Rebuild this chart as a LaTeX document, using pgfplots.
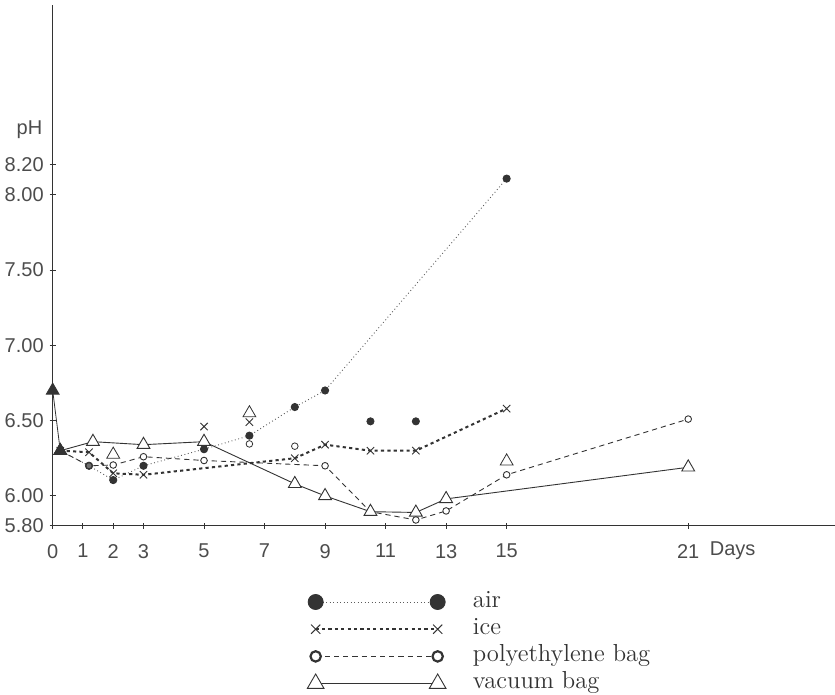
\documentclass[border=0pt]{standalone}
\usepackage{fontspec}
\setsansfont{Liberation Sans}
\usepackage{pgfplots}
\pgfplotsset{compat=1.18}
\colorlet{ink}{black!80}
\pgfplotsset{
  legimg/.style={legend image code/.code={\draw[##1,#1] plot coordinates {(0pt,0pt) (61pt,0pt)};}},
}

\begin{document}
\begin{tikzpicture}[x=1pt,y=1pt]
\path[use as bounding box] (-26.35,-84.5) rectangle (391.15,263);
\begin{axis}[
  at={(0,0)}, anchor=south west,
  scale only axis, width=391.15pt, height=260.5pt,
  xmin=0, xmax=25.85, ymin=5.8, ymax=9.26,
  axis lines*=left,
  axis line style={ink, line width=0.5pt},
  xtick={0,1,2,3,5,7,9,11,13,15,21},
  ytick={5.8,6,6.5,7,7.5,8,8.2},
  yticklabels={5.80,6.00,6.50,7.00,7.50,8.00,8.20},
  xticklabels={0,1,2,3,5,7,9,11,13,15,21},
  tick align=center, major tick length=3pt,
  tick style={ink, line width=0.5pt},
  ticklabel style={font=\sffamily\fontsize{10}{12}\selectfont, text=black!70},
  xticklabel style={yshift=-4pt},
  yticklabel style={xshift=0.5pt},
  clip=false,
  legend style={draw=none, fill=none, at={(0.325,0)}, anchor=north west,
    yshift=-32.3pt, inner sep=0pt, row sep=2.6pt, column sep=13pt,
    font=\fontsize{12.3}{13}\selectfont, text=ink,
    nodes={inner sep=0.5pt, text height=7.5pt, text depth=2.5pt},
    cells={anchor=west}},
]
% initial samples
\addplot[ink, line width=0.4pt, mark=triangle*, mark size=3.7pt, forget plot]
  coordinates {(0,6.70) (0.25,6.30)};

% air
\addplot[ink!80, line width=0.45pt, dash pattern=on 0.45pt off 1.3pt,
  mark=*, mark size=1.8pt, mark options={solid, fill=ink, draw=ink},
  legimg={mark size=3.75pt}]
  coordinates {(0.25,6.30) (1.2,6.20) (2,6.105) (3,6.20) (5,6.31) (6.5,6.40) (8,6.59) (9,6.70) (15,8.107)};
\addlegendentry{air}
\addplot[only marks, mark=*, mark size=1.8pt, mark options={fill=ink, draw=ink}, forget plot]
  coordinates {(10.5,6.495) (12,6.495)};

% ice
\addplot[ink, line width=1pt, dash pattern=on 1.6pt off 1.6pt,
  mark=x, mark size=2.6pt, mark options={solid, line width=0.45pt},
  legimg={mark size=3.25pt}]
  coordinates {(0.25,6.30) (1.2,6.29) (2,6.15) (3,6.14) (8,6.25) (9,6.34) (10.5,6.30) (12,6.30) (15,6.58)};
\addlegendentry{ice}
\addplot[only marks, ink, mark=x, mark size=2.6pt, mark options={line width=0.45pt}, forget plot]
  coordinates {(5,6.46) (6.5,6.49)};

% polyethylene bag
\addplot[ink, line width=0.45pt, dash pattern=on 2.6pt off 2pt,
  mark=*, mark size=1.65pt, mark options={solid, fill=white},
  legimg={mark size=2.6pt, mark options={solid, fill=white, line width=1.1pt}}]
  coordinates {(0.25,6.30) (1.2,6.20) (2,6.205) (3,6.26) (5,6.235) (9,6.20) (10.5,5.895) (12,5.84) (13,5.90) (15,6.14) (21,6.51)};
\addlegendentry{polyethylene bag}
\addplot[only marks, ink, mark=*, mark size=1.65pt, mark options={fill=white}, forget plot]
  coordinates {(6.5,6.345) (8,6.33)};

% vacuum bag
\addplot[ink, line width=0.45pt,
  mark=triangle*, mark size=3.7pt, mark options={solid, fill=white},
  legimg={mark size=4.8pt}]
  coordinates {(1.33,6.36) (3,6.34) (5,6.36) (8,6.08) (9,6.00) (10.5,5.895) (12,5.89) (13,5.98) (21,6.19)};
\addlegendentry{vacuum bag}
\addplot[only marks, ink, mark=triangle*, mark size=3.7pt, mark options={fill=white}, forget plot]
  coordinates {(2,6.275) (6.5,6.55) (15,6.23)};
\addplot[ink, line width=0.45pt, forget plot] coordinates {(0.25,6.30) (1.33,6.36)};
\addplot[ink, only marks, mark=triangle*, mark size=3.7pt, forget plot]
  coordinates {(0.25,6.30)};
% air at day 1 drawn over the open circle
\addplot[only marks, mark=*, mark size=1.5pt, mark options={fill=ink!70, draw=ink}, forget plot]
  coordinates {(1.2,6.20)};

\node[anchor=south east, font=\sffamily\fontsize{10}{12}\selectfont, text=black!70, inner sep=0pt]
  at (axis cs:0,8.37) [xshift=-5pt] {pH};
\node[anchor=north west, font=\sffamily\fontsize{10}{12}\selectfont, text=black!70, inner sep=0pt]
  at (axis cs:21.7,5.8) [yshift=-7.5pt] {Days};
\end{axis}
\end{tikzpicture}
\end{document}
